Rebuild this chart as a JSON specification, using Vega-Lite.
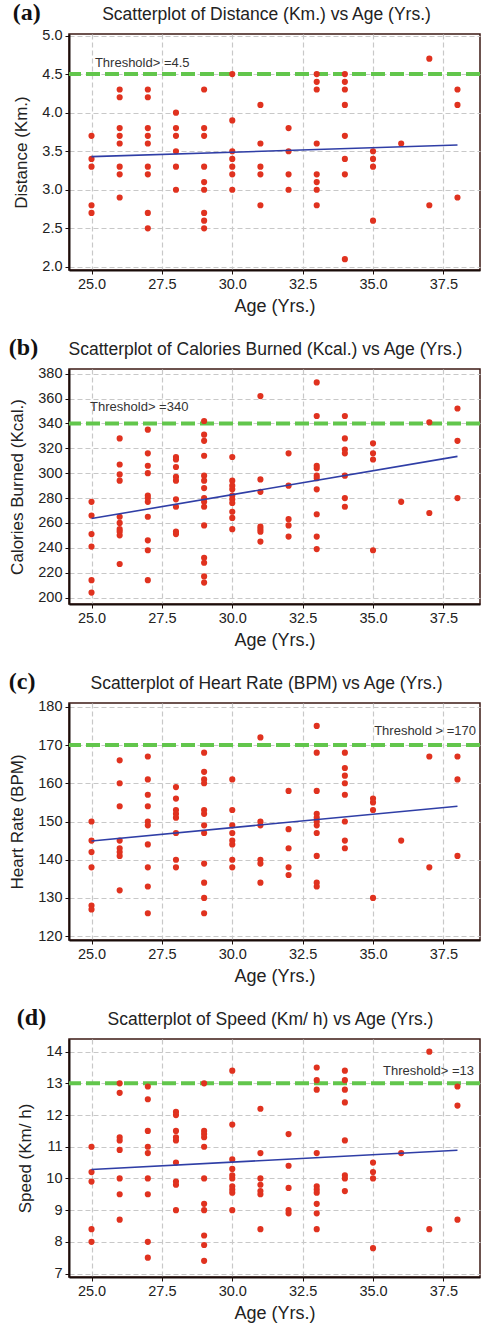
{
  "$schema": "https://vega.github.io/schema/vega-lite/v6.json",
  "padding": {"left": 8, "top": 0, "right": 0, "bottom": 0},
  "spacing": 18,
  "datasets": {
    "distance": [
      {"age":25,"value":3.7},{"age":25,"value":3.4},{"age":25,"value":3.3},{"age":25,"value":2.8},{"age":25,"value":2.7},
      {"age":26,"value":4.3},{"age":26,"value":4.2},{"age":26,"value":3.8},{"age":26,"value":3.7},{"age":26,"value":3.6},{"age":26,"value":3.3},{"age":26,"value":3.2},{"age":26,"value":2.9},
      {"age":27,"value":4.3},{"age":27,"value":4.2},{"age":27,"value":3.8},{"age":27,"value":3.7},{"age":27,"value":3.6},{"age":27,"value":3.3},{"age":27,"value":3.2},{"age":27,"value":2.7},{"age":27,"value":2.5},
      {"age":28,"value":4.0},{"age":28,"value":3.8},{"age":28,"value":3.7},{"age":28,"value":3.5},{"age":28,"value":3.3},{"age":28,"value":3.0},
      {"age":29,"value":4.3},{"age":29,"value":3.8},{"age":29,"value":3.7},{"age":29,"value":3.3},{"age":29,"value":3.1},{"age":29,"value":3.0},{"age":29,"value":2.7},{"age":29,"value":2.6},{"age":29,"value":2.5},
      {"age":30,"value":4.5},{"age":30,"value":3.9},{"age":30,"value":3.5},{"age":30,"value":3.4},{"age":30,"value":3.3},{"age":30,"value":3.2},{"age":30,"value":3.0},
      {"age":31,"value":4.1},{"age":31,"value":3.6},{"age":31,"value":3.3},{"age":31,"value":3.2},{"age":31,"value":2.8},
      {"age":32,"value":3.8},{"age":32,"value":3.5},{"age":32,"value":3.2},{"age":32,"value":3.0},
      {"age":33,"value":4.5},{"age":33,"value":4.4},{"age":33,"value":4.3},{"age":33,"value":3.6},{"age":33,"value":3.2},{"age":33,"value":3.1},{"age":33,"value":3.0},{"age":33,"value":2.8},
      {"age":34,"value":4.5},{"age":34,"value":4.4},{"age":34,"value":4.3},{"age":34,"value":4.1},{"age":34,"value":3.7},{"age":34,"value":3.4},{"age":34,"value":3.2},{"age":34,"value":2.1},
      {"age":35,"value":3.5},{"age":35,"value":3.4},{"age":35,"value":3.3},{"age":35,"value":2.6},
      {"age":36,"value":3.6},
      {"age":37,"value":4.7},{"age":37,"value":2.8},
      {"age":38,"value":4.3},{"age":38,"value":4.1},{"age":38,"value":2.9}
    ],
    "distance_fit": [{"age":25,"value":3.43},{"age":38,"value":3.58}],
    "distance_threshold": [{"value":4.5,"label":"Threshold> =4.5"}],
    "calories": [
      {"age":25,"value":277},{"age":25,"value":266},{"age":25,"value":251},{"age":25,"value":241},{"age":25,"value":214},{"age":25,"value":204},
      {"age":26,"value":328},{"age":26,"value":307},{"age":26,"value":299},{"age":26,"value":294},{"age":26,"value":265},{"age":26,"value":260},{"age":26,"value":255},{"age":26,"value":253},{"age":26,"value":250},{"age":26,"value":227},
      {"age":27,"value":335},{"age":27,"value":316},{"age":27,"value":306},{"age":27,"value":300},{"age":27,"value":282},{"age":27,"value":280},{"age":27,"value":277},{"age":27,"value":265},{"age":27,"value":246},{"age":27,"value":238},{"age":27,"value":214},
      {"age":28,"value":313},{"age":28,"value":311},{"age":28,"value":305},{"age":28,"value":297},{"age":28,"value":294},{"age":28,"value":279},{"age":28,"value":273},{"age":28,"value":253},{"age":28,"value":251},
      {"age":29,"value":342},{"age":29,"value":331},{"age":29,"value":326},{"age":29,"value":314},{"age":29,"value":298},{"age":29,"value":294},{"age":29,"value":288},{"age":29,"value":280},{"age":29,"value":277},{"age":29,"value":273},{"age":29,"value":258},{"age":29,"value":232},{"age":29,"value":228},{"age":29,"value":217},{"age":29,"value":212},
      {"age":30,"value":313},{"age":30,"value":294},{"age":30,"value":290},{"age":30,"value":287},{"age":30,"value":282},{"age":30,"value":279},{"age":30,"value":276},{"age":30,"value":269},{"age":30,"value":264},{"age":30,"value":255},
      {"age":31,"value":362},{"age":31,"value":295},{"age":31,"value":285},{"age":31,"value":257},{"age":31,"value":255},{"age":31,"value":253},{"age":31,"value":245},
      {"age":32,"value":316},{"age":32,"value":290},{"age":32,"value":263},{"age":32,"value":258},{"age":32,"value":249},
      {"age":33,"value":373},{"age":33,"value":346},{"age":33,"value":306},{"age":33,"value":304},{"age":33,"value":298},{"age":33,"value":296},{"age":33,"value":287},{"age":33,"value":267},{"age":33,"value":249},{"age":33,"value":239},
      {"age":34,"value":346},{"age":34,"value":328},{"age":34,"value":319},{"age":34,"value":316},{"age":34,"value":298},{"age":34,"value":280},{"age":34,"value":273},
      {"age":35,"value":324},{"age":35,"value":316},{"age":35,"value":311},{"age":35,"value":238},
      {"age":36,"value":277},
      {"age":37,"value":341},{"age":37,"value":268},
      {"age":38,"value":352},{"age":38,"value":326},{"age":38,"value":280}
    ],
    "calories_fit": [{"age":25,"value":263.5},{"age":38,"value":313.5}],
    "calories_threshold": [{"value":340,"label":"Threshold> =340"}],
    "heart": [
      {"age":25,"value":150},{"age":25,"value":145},{"age":25,"value":142},{"age":25,"value":138},{"age":25,"value":128},{"age":25,"value":127},
      {"age":26,"value":166},{"age":26,"value":160},{"age":26,"value":154},{"age":26,"value":145},{"age":26,"value":143},{"age":26,"value":142},{"age":26,"value":141},{"age":26,"value":132},
      {"age":27,"value":167},{"age":27,"value":161},{"age":27,"value":157},{"age":27,"value":154},{"age":27,"value":150},{"age":27,"value":149},{"age":27,"value":144},{"age":27,"value":138},{"age":27,"value":133},{"age":27,"value":126},
      {"age":28,"value":159},{"age":28,"value":156},{"age":28,"value":153},{"age":28,"value":152},{"age":28,"value":151},{"age":28,"value":147},{"age":28,"value":140},{"age":28,"value":138},
      {"age":29,"value":168},{"age":29,"value":163},{"age":29,"value":161},{"age":29,"value":160},{"age":29,"value":153},{"age":29,"value":152},{"age":29,"value":149},{"age":29,"value":147},{"age":29,"value":139},{"age":29,"value":134},{"age":29,"value":130},{"age":29,"value":126},
      {"age":30,"value":161},{"age":30,"value":153},{"age":30,"value":149},{"age":30,"value":147},{"age":30,"value":145},{"age":30,"value":144},{"age":30,"value":140},{"age":30,"value":138},
      {"age":31,"value":172},{"age":31,"value":150},{"age":31,"value":149},{"age":31,"value":140},{"age":31,"value":139},{"age":31,"value":134},
      {"age":32,"value":158},{"age":32,"value":148},{"age":32,"value":143},{"age":32,"value":138},{"age":32,"value":136},
      {"age":33,"value":175},{"age":33,"value":168},{"age":33,"value":158},{"age":33,"value":152},{"age":33,"value":151},{"age":33,"value":150},{"age":33,"value":149},{"age":33,"value":147},{"age":33,"value":141},{"age":33,"value":134},{"age":33,"value":133},
      {"age":34,"value":168},{"age":34,"value":164},{"age":34,"value":162},{"age":34,"value":160},{"age":34,"value":157},{"age":34,"value":150},{"age":34,"value":145},{"age":34,"value":143},
      {"age":35,"value":156},{"age":35,"value":155},{"age":35,"value":153},{"age":35,"value":130},
      {"age":36,"value":145},
      {"age":37,"value":167},{"age":37,"value":138},
      {"age":38,"value":167},{"age":38,"value":161},{"age":38,"value":141}
    ],
    "heart_fit": [{"age":25,"value":144.9},{"age":38,"value":154.0}],
    "heart_threshold": [{"value":170,"label":"Threshold > =170"}],
    "speed": [
      {"age":25,"value":11.0},{"age":25,"value":10.2},{"age":25,"value":9.9},{"age":25,"value":8.4},{"age":25,"value":8.0},
      {"age":26,"value":13.0},{"age":26,"value":12.7},{"age":26,"value":11.3},{"age":26,"value":11.2},{"age":26,"value":10.9},{"age":26,"value":10.0},{"age":26,"value":9.5},{"age":26,"value":8.7},
      {"age":27,"value":12.9},{"age":27,"value":12.5},{"age":27,"value":11.5},{"age":27,"value":11.0},{"age":27,"value":10.8},{"age":27,"value":10.0},{"age":27,"value":9.5},{"age":27,"value":8.0},{"age":27,"value":7.5},
      {"age":28,"value":12.1},{"age":28,"value":12.0},{"age":28,"value":11.5},{"age":28,"value":11.3},{"age":28,"value":11.2},{"age":28,"value":10.5},{"age":28,"value":9.9},{"age":28,"value":9.8},{"age":28,"value":9.0},
      {"age":29,"value":13.0},{"age":29,"value":11.5},{"age":29,"value":11.4},{"age":29,"value":11.3},{"age":29,"value":11.0},{"age":29,"value":10.0},{"age":29,"value":9.2},{"age":29,"value":9.0},{"age":29,"value":8.2},{"age":29,"value":7.9},{"age":29,"value":7.4},
      {"age":30,"value":13.4},{"age":30,"value":11.7},{"age":30,"value":10.6},{"age":30,"value":10.3},{"age":30,"value":10.1},{"age":30,"value":10.0},{"age":30,"value":9.75},{"age":30,"value":9.65},{"age":30,"value":9.55},{"age":30,"value":9.0},
      {"age":31,"value":12.2},{"age":31,"value":10.8},{"age":31,"value":10.0},{"age":31,"value":9.8},{"age":31,"value":9.6},{"age":31,"value":9.5},{"age":31,"value":8.4},
      {"age":32,"value":11.4},{"age":32,"value":10.4},{"age":32,"value":9.7},{"age":32,"value":9.0},{"age":32,"value":8.9},
      {"age":33,"value":13.5},{"age":33,"value":13.1},{"age":33,"value":12.8},{"age":33,"value":10.8},{"age":33,"value":9.75},{"age":33,"value":9.65},{"age":33,"value":9.55},{"age":33,"value":9.2},{"age":33,"value":8.9},{"age":33,"value":8.4},
      {"age":34,"value":13.4},{"age":34,"value":13.1},{"age":34,"value":12.8},{"age":34,"value":12.4},{"age":34,"value":11.2},{"age":34,"value":10.1},{"age":34,"value":10.0},{"age":34,"value":9.6},
      {"age":35,"value":10.5},{"age":35,"value":10.2},{"age":35,"value":10.0},{"age":35,"value":7.8},
      {"age":36,"value":10.8},
      {"age":37,"value":14.0},{"age":37,"value":8.4},
      {"age":38,"value":12.9},{"age":38,"value":12.3},{"age":38,"value":8.7}
    ],
    "speed_fit": [{"age":25,"value":10.28},{"age":38,"value":10.89}],
    "speed_threshold": [{"value":13,"label":"Threshold> =13"}]
  },
  "vconcat": [
    {
      "title": {"text": "(a)", "dy": 24},
      "width": 411, "height": 236,
      "resolve": {"axis": {"x": "independent"}},
      "encoding": {"y": {"field": "value", "type": "quantitative", "scale": {"domain": [1.96, 5.02], "nice": false, "zero": false}, "axis": {"title": "Distance (Km.)", "values": [2, 2.5, 3, 3.5, 4, 4.5, 5], "format": ".1f"}}},
      "layer": [
        {"data": {"name": "distance_threshold"}, "mark": {"type": "rule", "color": "#62c64c", "strokeWidth": 4, "strokeDash": [14, 5]}, "encoding": {}},
        {"data": {"name": "distance"}, "mark": {"type": "point", "filled": true, "size": 38, "color": "#e0321f", "opacity": 1},
         "encoding": {"x": {"field": "age", "type": "quantitative", "scale": {"domain": [24.2, 38.8], "nice": false, "zero": false}, "axis": {"title": "Age (Yrs.)", "values": [25, 27.5, 30, 32.5, 35, 37.5], "format": ".1f"}}}},
        {"data": {"name": "distance_fit"}, "mark": {"type": "line", "color": "#2f3ea6", "strokeWidth": 1.6},
         "encoding": {"x": {"field": "age", "type": "quantitative", "axis": {"orient": "top", "title": "Scatterplot of Distance (Km.) vs Age (Yrs.)", "titleX": 197, "labels": false, "ticks": false, "domain": false, "grid": false, "titleFontSize": 17.5, "titlePadding": 11}}}},
        {"data": {"name": "distance_threshold"}, "mark": {"type": "text", "align": "left", "baseline": "middle", "dy": -11, "fontSize": 13, "color": "#333"},
         "encoding": {"x": {"datum": 25.12, "type": "quantitative", "axis": null}, "text": {"field": "label"}}}
      ]
    },
    {
      "title": {"text": "(b)", "dy": 24},
      "width": 411, "height": 235,
      "resolve": {"axis": {"x": "independent"}},
      "encoding": {"y": {"field": "value", "type": "quantitative", "scale": {"domain": [194.8, 383.8], "nice": false, "zero": false}, "axis": {"title": "Calories Burned (Kcal.)", "values": [200, 220, 240, 260, 280, 300, 320, 340, 360, 380]}}},
      "layer": [
        {"data": {"name": "calories_threshold"}, "mark": {"type": "rule", "color": "#62c64c", "strokeWidth": 4, "strokeDash": [14, 5]}, "encoding": {}},
        {"data": {"name": "calories"}, "mark": {"type": "point", "filled": true, "size": 38, "color": "#e0321f", "opacity": 1},
         "encoding": {"x": {"field": "age", "type": "quantitative", "scale": {"domain": [24.2, 38.8], "nice": false, "zero": false}, "axis": {"title": "Age (Yrs.)", "values": [25, 27.5, 30, 32.5, 35, 37.5], "format": ".1f"}}}},
        {"data": {"name": "calories_fit"}, "mark": {"type": "line", "color": "#2f3ea6", "strokeWidth": 1.6},
         "encoding": {"x": {"field": "age", "type": "quantitative", "axis": {"orient": "top", "title": "Scatterplot of Calories Burned (Kcal.) vs Age (Yrs.)", "titleX": 196, "labels": false, "ticks": false, "domain": false, "grid": false, "titleFontSize": 17.5, "titlePadding": 11}}}},
        {"data": {"name": "calories_threshold"}, "mark": {"type": "text", "align": "left", "baseline": "middle", "dy": -16, "fontSize": 13, "color": "#333"},
         "encoding": {"x": {"datum": 24.95, "type": "quantitative", "axis": null}, "text": {"field": "label"}}}
      ]
    },
    {
      "title": {"text": "(c)", "dy": 24},
      "width": 411, "height": 237,
      "resolve": {"axis": {"x": "independent"}},
      "encoding": {"y": {"field": "value", "type": "quantitative", "scale": {"domain": [119, 181], "nice": false, "zero": false}, "axis": {"title": "Heart Rate (BPM)", "values": [120, 130, 140, 150, 160, 170, 180]}}},
      "layer": [
        {"data": {"name": "heart_threshold"}, "mark": {"type": "rule", "color": "#62c64c", "strokeWidth": 4, "strokeDash": [14, 5]}, "encoding": {}},
        {"data": {"name": "heart"}, "mark": {"type": "point", "filled": true, "size": 38, "color": "#e0321f", "opacity": 1},
         "encoding": {"x": {"field": "age", "type": "quantitative", "scale": {"domain": [24.2, 38.8], "nice": false, "zero": false}, "axis": {"title": "Age (Yrs.)", "values": [25, 27.5, 30, 32.5, 35, 37.5], "format": ".1f"}}}},
        {"data": {"name": "heart_fit"}, "mark": {"type": "line", "color": "#2f3ea6", "strokeWidth": 1.6},
         "encoding": {"x": {"field": "age", "type": "quantitative", "axis": {"orient": "top", "title": "Scatterplot of Heart Rate (BPM) vs Age (Yrs.)", "titleX": 197, "labels": false, "ticks": false, "domain": false, "grid": false, "titleFontSize": 17.5, "titlePadding": 11}}}},
        {"data": {"name": "heart_threshold"}, "mark": {"type": "text", "align": "right", "baseline": "middle", "dy": -14, "fontSize": 13, "color": "#333"},
         "encoding": {"x": {"datum": 38.66, "type": "quantitative", "axis": null}, "text": {"field": "label"}}}
      ]
    },
    {
      "title": {"text": "(d)", "dy": 24},
      "width": 411, "height": 238,
      "resolve": {"axis": {"x": "independent"}},
      "encoding": {"y": {"field": "value", "type": "quantitative", "scale": {"domain": [6.89, 14.4], "nice": false, "zero": false}, "axis": {"title": "Speed (Km/ h)", "values": [7, 8, 9, 10, 11, 12, 13, 14]}}},
      "layer": [
        {"data": {"name": "speed_threshold"}, "mark": {"type": "rule", "color": "#62c64c", "strokeWidth": 4, "strokeDash": [14, 5]}, "encoding": {}},
        {"data": {"name": "speed"}, "mark": {"type": "point", "filled": true, "size": 38, "color": "#e0321f", "opacity": 1},
         "encoding": {"x": {"field": "age", "type": "quantitative", "scale": {"domain": [24.2, 38.8], "nice": false, "zero": false}, "axis": {"title": "Age (Yrs.)", "values": [25, 27.5, 30, 32.5, 35, 37.5], "format": ".1f"}}}},
        {"data": {"name": "speed_fit"}, "mark": {"type": "line", "color": "#2f3ea6", "strokeWidth": 1.6},
         "encoding": {"x": {"field": "age", "type": "quantitative", "axis": {"orient": "top", "title": "Scatterplot of Speed (Km/ h) vs Age (Yrs.)", "titleX": 201, "labels": false, "ticks": false, "domain": false, "grid": false, "titleFontSize": 17.5, "titlePadding": 11}}}},
        {"data": {"name": "speed_threshold"}, "mark": {"type": "text", "align": "right", "baseline": "middle", "dy": -12, "fontSize": 13, "color": "#333"},
         "encoding": {"x": {"datum": 38.59, "type": "quantitative", "axis": null}, "text": {"field": "label"}}}
      ]
    }
  ],
  "config": {
    "font": "Liberation Sans",
    "view": {"stroke": "#3d1a14", "strokeWidth": 1.5},
    "title": {"anchor": "start", "frame": "bounds", "font": "Liberation Serif", "fontSize": 24, "fontWeight": "bold", "color": "#111", "offset": 0},
    "axis": {"labelFont": "Liberation Sans", "labelFontSize": 14.5, "labelColor": "#222", "titleFont": "Liberation Sans", "titleFontWeight": "normal", "titleColor": "#222", "gridColor": "#c8c8c8", "gridDash": [5, 3], "gridWidth": 1.2, "domainColor": "#1a0d0a", "domainWidth": 2, "tickColor": "#1a0d0a", "tickSize": 4, "labelPadding": 3},
    "axisX": {"titleFontSize": 18, "titlePadding": 7},
    "axisY": {"titleFontSize": 17, "titlePadding": 11}
  }
}
